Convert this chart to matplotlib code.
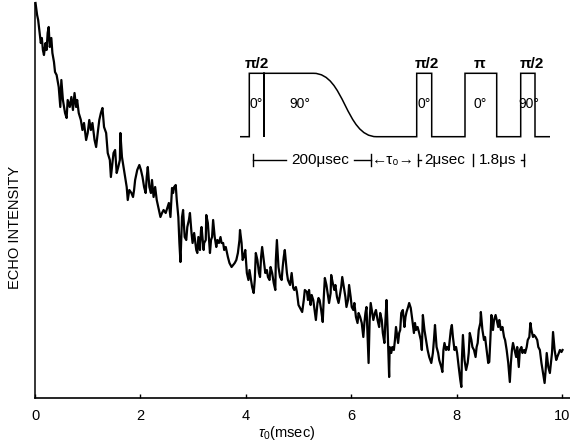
import numpy as np
import matplotlib
matplotlib.use("Agg")
import matplotlib.pyplot as plt
from matplotlib.path import Path
from matplotlib.patches import PathPatch

plt.rcParams['font.family'] = ['Liberation Sans', 'DejaVu Sans']
plt.rcParams['mathtext.fontset'] = 'custom'
plt.rcParams['mathtext.rm'] = 'Liberation Sans'
plt.rcParams['mathtext.it'] = 'Liberation Sans:italic'

# ---- main trace: echo intensity (arb. units) vs tau_0 (msec) ----
tau_ms = [
    0.01, 0.04, 0.06, 0.11, 0.13, 0.15, 0.17, 0.20, 0.22, 0.24,
    0.26, 0.28, 0.31, 0.33, 0.36, 0.38, 0.41, 0.45, 0.48, 0.50,
    0.53, 0.57, 0.60, 0.62, 0.66, 0.69, 0.72, 0.75, 0.78, 0.80,
    0.83, 0.87, 0.90, 0.93, 0.97, 1.00, 1.03, 1.06, 1.09, 1.13,
    1.16, 1.19, 1.22, 1.25, 1.28, 1.31, 1.35, 1.38, 1.42, 1.44,
    1.47, 1.49, 1.52, 1.55, 1.58, 1.61, 1.62, 1.65, 1.68, 1.72,
    1.74, 1.76, 1.79, 1.83, 1.86, 1.88, 1.90, 1.94, 1.98, 2.01,
    2.04, 2.07, 2.10, 2.12, 2.14, 2.17, 2.20, 2.22, 2.25, 2.28,
    2.31, 2.35, 2.38, 2.41, 2.44, 2.48, 2.51, 2.54, 2.57, 2.60,
    2.62, 2.64, 2.67, 2.69, 2.72, 2.74, 2.76, 2.78, 2.79, 2.81,
    2.84, 2.87, 2.89, 2.92, 2.94, 2.97, 2.99, 3.02, 3.06, 3.08,
    3.10, 3.13, 3.15, 3.16, 3.20, 3.21, 3.24, 3.25, 3.28, 3.32,
    3.34, 3.36, 3.38, 3.41, 3.44, 3.46, 3.49, 3.52, 3.54, 3.57,
    3.59, 3.62, 3.66, 3.69, 3.73, 3.76, 3.79, 3.82, 3.85, 3.88,
    3.89, 3.92, 3.94, 3.96, 3.99, 4.02, 4.05, 4.07, 4.10, 4.12,
    4.15, 4.17, 4.19, 4.22, 4.25, 4.27, 4.29, 4.31, 4.34, 4.37,
    4.40, 4.42, 4.45, 4.47, 4.50, 4.53, 4.56, 4.57, 4.59, 4.62,
    4.65, 4.68, 4.70, 4.72, 4.74, 4.78, 4.80, 4.84, 4.87, 4.90,
    4.92, 4.95, 4.97, 5.00, 5.03, 5.07, 5.10, 5.12, 5.16, 5.18,
    5.20, 5.23, 5.25, 5.28, 5.31, 5.33, 5.36, 5.38, 5.40, 5.43,
    5.46, 5.48, 5.50, 5.53, 5.55, 5.58, 5.61, 5.62, 5.65, 5.68,
    5.70, 5.73, 5.76, 5.78, 5.81, 5.83, 5.86, 5.89, 5.91, 5.94,
    5.96, 5.99, 6.01, 6.04, 6.06, 6.09, 6.12, 6.14, 6.17, 6.20,
    6.23, 6.25, 6.27, 6.29, 6.33, 6.35, 6.37, 6.39, 6.42, 6.45,
    6.47, 6.50, 6.53, 6.55, 6.58, 6.60, 6.63, 6.65, 6.67, 6.69,
    6.72, 6.73, 6.76, 6.78, 6.81, 6.83, 6.85, 6.89, 6.91, 6.93,
    6.95, 6.98, 7.01, 7.03, 7.05, 7.08, 7.10, 7.13, 7.16, 7.19,
    7.21, 7.23, 7.26, 7.29, 7.32, 7.34, 7.36, 7.39, 7.42, 7.45,
    7.48, 7.52, 7.55, 7.57, 7.59, 7.62, 7.65, 7.67, 7.71, 7.73,
    7.75, 7.77, 7.80, 7.82, 7.85, 7.87, 7.89, 7.91, 7.93, 7.96,
    7.99, 8.01, 8.04, 8.07, 8.09, 8.10, 8.12, 8.15, 8.18, 8.21,
    8.23, 8.25, 8.28, 8.30, 8.33, 8.36, 8.38, 8.40, 8.42, 8.45,
    8.46, 8.49, 8.52, 8.54, 8.57, 8.60, 8.62, 8.64, 8.66, 8.69,
    8.71, 8.74, 8.76, 8.79, 8.81, 8.84, 8.87, 8.90, 8.92, 8.95,
    8.98, 9.01, 9.03, 9.05, 9.07, 9.10, 9.13, 9.15, 9.18, 9.20,
    9.23, 9.25, 9.28, 9.30, 9.33, 9.35, 9.38, 9.40, 9.42, 9.45,
    9.47, 9.50, 9.53, 9.55, 9.58, 9.61, 9.64, 9.67, 9.69, 9.71,
    9.74, 9.77, 9.79, 9.81, 9.83, 9.86, 9.89, 9.91, 9.94, 9.96,
    9.99, 10.01,
]
echo = [
    395, 383, 378, 355, 360, 348, 343, 355, 348, 365,
    371, 351, 360, 345, 336, 326, 323, 311, 291, 318,
    298, 285, 280, 298, 291, 301, 288, 305, 291, 298,
    285, 278, 268, 275, 258, 265, 278, 268, 275, 258,
    251, 265, 278, 285, 290, 271, 265, 245, 238, 221,
    235, 245, 248, 225, 231, 238, 265, 241, 231, 218,
    211, 198, 208, 205, 201, 208, 218, 228, 233, 228,
    221, 211, 205, 221, 231, 211, 205, 218, 201, 211,
    198, 188, 181, 185, 188, 185, 190, 195, 181, 210,
    205, 211, 213, 198, 181, 155, 136, 165, 181, 188,
    161, 158, 171, 178, 185, 165, 155, 165, 148, 145,
    161, 148, 168, 171, 148, 155, 158, 183, 175, 145,
    158, 161, 178, 161, 151, 158, 155, 161, 155, 155,
    148, 151, 141, 135, 131, 133, 135, 138, 145, 158,
    168, 155, 138, 141, 148, 125, 118, 128, 118, 111,
    105, 118, 145, 138, 125, 121, 141, 151, 138, 125,
    128, 121, 118, 131, 125, 115, 108, 138, 158, 131,
    121, 118, 131, 141, 148, 125, 118, 113, 125, 110,
    108, 111, 106, 93, 90, 86, 98, 108, 106, 98,
    108, 93, 103, 98, 86, 78, 95, 100, 98, 88,
    76, 101, 120, 113, 106, 95, 105, 123, 115, 108,
    113, 101, 95, 101, 111, 121, 111, 101, 91, 98,
    113, 101, 91, 88, 95, 81, 75, 85, 81, 75,
    61, 75, 85, 91, 35, 78, 95, 88, 78, 85,
    88, 78, 71, 85, 78, 65, 55, 78, 98, 71,
    21, 51, 45, 51, 48, 58, 71, 55, 65, 68,
    85, 88, 71, 81, 86, 91, 95, 90, 78, 65,
    75, 68, 71, 65, 58, 48, 83, 68, 58, 48,
    41, 35, 45, 58, 73, 51, 45, 38, 31, 26,
    48, 55, 48, 51, 48, 58, 68, 73, 61, 48,
    51, 45, 31, 18, 11, 38, 63, 38, 28, 35,
    45, 65, 58, 51, 48, 41, 51, 55, 68, 75,
    86, 68, 58, 61, 48, 35, 36, 58, 83, 68,
    78, 83, 78, 71, 78, 68, 71, 61, 58, 48,
    35, 16, 35, 48, 55, 48, 41, 51, 31, 48,
    51, 45, 48, 45, 51, 58, 61, 75, 68, 61,
    63, 61, 58, 51, 48, 35, 25, 15, 28, 45,
    31, 25, 35, 45, 66, 48, 38, 41, 45, 48,
    46, 48,
]
x_ticks = [0, 2, 4, 6, 8, 10]
x_label = r'$\tau_0$(msec)'
y_label = 'ECHO INTENSITY'

# ---- inset pulse-sequence schematic (schematic units, level 0/1) ----
seq_x = [0, 9.3, 9.3, 24, 24, 24, 73.3]
seq_y = [0, 0, 1, 1, 0, 1, 1]
shaped_end = (136.7, 0)          # end of the shaped 90-degree pulse
seq2_x = [176.7, 176.7, 191.7, 191.7, 225, 225, 256.7, 256.7, 280.7, 280.7, 295, 295, 310]
seq2_y = [0, 1, 1, 0, 0, 1, 1, 0, 0, 1, 1, 0, 0]
pulse_names = ['π/2', 'π/2', 'π', 'π/2']
pulse_name_x = [17, 187, 240, 292]
phase_names = ['0°', '90°', '0°', '0°', '90°']
phase_x = [16, 60, 184.5, 240, 289]
timing_bars = [13.3, 131, 178, 233, 284]
timing_lines = [(13.3, 46), (114, 131), (178, 181), (281, 284)]
timing_text = ['200μsec', '←τ₀→', '2μsec', '1.8μs']
timing_text_x = [80, 153, 205, 258]

fig = plt.figure(figsize=(5.70, 4.47), dpi=100)
W, H = 570, 447
ax = fig.add_axes([35 / W, 1 - 398 / H, (570 - 35) / W, (398 - 3) / H])
ax.plot(tau_ms, echo, color='black', lw=1.6, clip_on=False)
ax.set_xlim(0, 535 / 52.7)
ax.set_ylim(0, 395)
ax.spines['top'].set_visible(False)
ax.spines['right'].set_visible(False)
ax.spines['left'].set_linewidth(1.1)
ax.spines['bottom'].set_linewidth(1.2)
ax.set_yticks([])
ax.set_xticks(x_ticks)
ax.set_xticklabels([str(v) for v in x_ticks])
ax.tick_params(axis='x', direction='in', length=3, width=1, labelsize=10.5, pad=8)
ax.set_xlabel(x_label, fontsize=10.5)
ax.xaxis.set_label_coords((287 - 35) / 535, -(424 - 398) / 395)
ax.set_ylabel(y_label, fontsize=10.5)
ax.yaxis.set_label_coords((22 - 35) / 535, (398 - 227) / 395)

# inset
ix0, ix1, iy0, iy1 = 235, 560, 45, 175
ins = fig.add_axes([ix0 / W, 1 - iy1 / H, (ix1 - ix0) / W, (iy1 - iy0) / H])
ins.axis('off')
base_px, top_px = 136.7, 73.3
ppu = base_px - top_px
ins.set_xlim(ix0 - 240, ix1 - 240)
ins.set_ylim((base_px - iy1) / ppu, (base_px - iy0) / ppu)

verts = list(zip(seq_x, seq_y))
codes = [Path.MOVETO] + [Path.LINETO] * (len(verts) - 1)
mid = (seq_x[-1] + shaped_end[0]) / 2
verts += [(mid, 1), (mid, 0), shaped_end]
codes += [Path.CURVE4] * 3
verts += list(zip(seq2_x, seq2_y))
codes += [Path.LINETO] * len(seq2_x)
ins.add_patch(PathPatch(Path(verts, codes), fill=False, lw=1.1, color='black'))

for name, x in zip(pulse_names, pulse_name_x):
    ins.text(x, 1.04, name, ha='center', va='bottom', fontsize=11, fontweight='bold')
for name, x in zip(phase_names, phase_x):
    ins.text(x, 0.52, name, ha='center', va='center', fontsize=10)

ty = (base_px - 160) / ppu
for x in timing_bars:
    ins.plot([x, x], [ty - 0.09, ty + 0.09], color='black', lw=1)
for a, b in timing_lines:
    ins.plot([a, b], [ty, ty], color='black', lw=1)
for s, x in zip(timing_text, timing_text_x):
    ins.text(x, ty, s, ha='center', va='center', fontsize=11)

fig.savefig('out.png', dpi=100)
